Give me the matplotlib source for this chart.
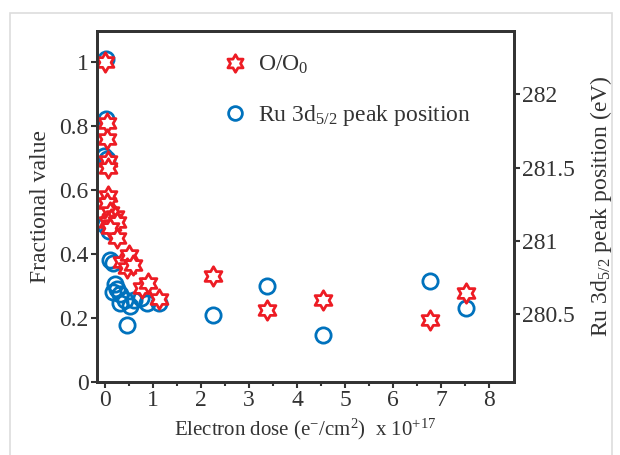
import numpy as np
import matplotlib
matplotlib.use("Agg")
import matplotlib.pyplot as plt
from matplotlib.path import Path
from matplotlib.patches import Rectangle

plt.rcParams['font.family'] = 'Liberation Serif'
plt.rcParams['mathtext.fontset'] = 'custom'
plt.rcParams['mathtext.rm'] = 'Liberation Serif'
plt.rcParams['mathtext.it'] = 'Liberation Serif:italic'
plt.rcParams['mathtext.default'] = 'regular'

# O/O0 (fractional value) vs electron dose (x 1e17)
o_dose = [0.0, 0.03, 0.03, 0.05, 0.06, 0.06, 0.03, 0.10, 0.20, 0.12, 0.05, 0.15,
          0.25, 0.10, 0.24, 0.35, 0.49, 0.45, 0.59, 0.76, 0.90, 1.12,
          2.24, 3.37, 4.53, 6.77, 7.53]
o_frac = [1.00, 0.81, 0.76, 0.69, 0.67, 0.58, 0.56, 0.53, 0.52, 0.51, 0.50, 0.49,
          0.50, 0.48, 0.45, 0.375, 0.397, 0.356, 0.365, 0.293, 0.31, 0.26,
          0.332, 0.225, 0.256, 0.194, 0.279]

# Ru 3d5/2 peak position (eV)
ru_dose = [0.02, 0.02, -0.03, 0.04, 0.0, 0.07, 0.10, 0.17, 0.21, 0.17, 0.24, 0.31,
           0.31, 0.42, 0.52, 0.60, 0.75, 0.87, 1.12, 0.45,
           2.24, 3.37, 4.53, 6.77, 7.53]
ru_ev = [282.24, 281.83, 281.58, 281.56, 281.11, 281.07, 280.87, 280.85, 280.71,
         280.65, 280.67, 280.64, 280.58, 280.60, 280.56, 280.60, 280.61, 280.58,
         280.58, 280.43, 280.495, 280.695, 280.36, 280.73, 280.545]

red = '#ED1C24'
blue = '#0072BD'
ink = '#333333'

# hexagram marker
ang = np.pi / 2 + np.arange(12) * np.pi / 6
rad = np.where(np.arange(12) % 2 == 0, 1.0, 1.0 / np.sqrt(3))
verts = np.column_stack([rad * np.cos(ang), rad * np.sin(ang)])
verts = np.vstack([verts, verts[:1]])
codes = [Path.MOVETO] + [Path.LINETO] * 11 + [Path.CLOSEPOLY]
hexagram = Path(verts, codes)

fig = plt.figure(figsize=(6.2, 4.55), dpi=100)
fig.patches.append(Rectangle((10 / 620, -0.1), 602 / 620, 1 - 13 / 455 + 0.1,
                             transform=fig.transFigure, fill=False,
                             edgecolor='#dddddd', linewidth=1.2))

ax = fig.add_axes([97 / 620, 73 / 455, 417 / 620, 351 / 455])
ax2 = ax.twinx()

ax.plot(o_dose, o_frac, linestyle='none', marker=hexagram, markersize=14,
        markerfacecolor='white', markeredgecolor=red, markeredgewidth=2,
        label='O/O$_0$')
ax2.plot(ru_dose, ru_ev, linestyle='none', marker='o', markersize=11,
         markerfacecolor='none', markeredgecolor=blue, markeredgewidth=2,
         label='Ru 3d$_{5/2}$ peak position')
ax.set_zorder(ax2.get_zorder() + 1)
ax.patch.set_visible(False)

ax.set_xlim(-0.17, 8.52)
ax.set_ylim(0, 1.097)
ax2.set_ylim(280.04, 282.43)

ax.set_xticks(range(0, 9))
ax.set_xticks(np.arange(0.5, 8.5, 1), minor=True)
ax.set_yticks([0, 0.2, 0.4, 0.6, 0.8, 1.0])
ax.set_yticklabels(['0', '0.2', '0.4', '0.6', '0.8', '1'])
ax2.set_yticks([280.5, 281, 281.5, 282])
ax2.set_yticklabels(['280.5', '281', '281.5', '282'])

for a in (ax, ax2):
    a.tick_params(labelsize=17, width=1.5, length=4, pad=2, color=ink, labelcolor=ink)
    a.tick_params(which='minor', width=1.5, length=3, color=ink)
    for s in a.spines.values():
        s.set_linewidth(2)
        s.set_color(ink)

ax.set_xlabel('Electron dose (e$^{-}$/cm$^2$)  x 10$^{+17}$', fontsize=15,
              color=ink, labelpad=4)
ax.set_ylabel('Fractional value', fontsize=17, color=ink, labelpad=6)
ax2.set_ylabel('Ru 3d$_{5/2}$ peak position (eV)', fontsize=17, color=ink,
               labelpad=9)

h1, l1 = ax.get_legend_handles_labels()
h2, l2 = ax2.get_legend_handles_labels()
leg = ax.legend(h1 + h2, l1 + l2, loc='upper left', bbox_to_anchor=(0.245, 0.995),
                frameon=False, fontsize=17, labelspacing=1.15, handletextpad=0.4,
                handlelength=1.2, markerscale=0.9)
for t in leg.get_texts():
    t.set_color(ink)

fig.savefig('out.png', dpi=100)
